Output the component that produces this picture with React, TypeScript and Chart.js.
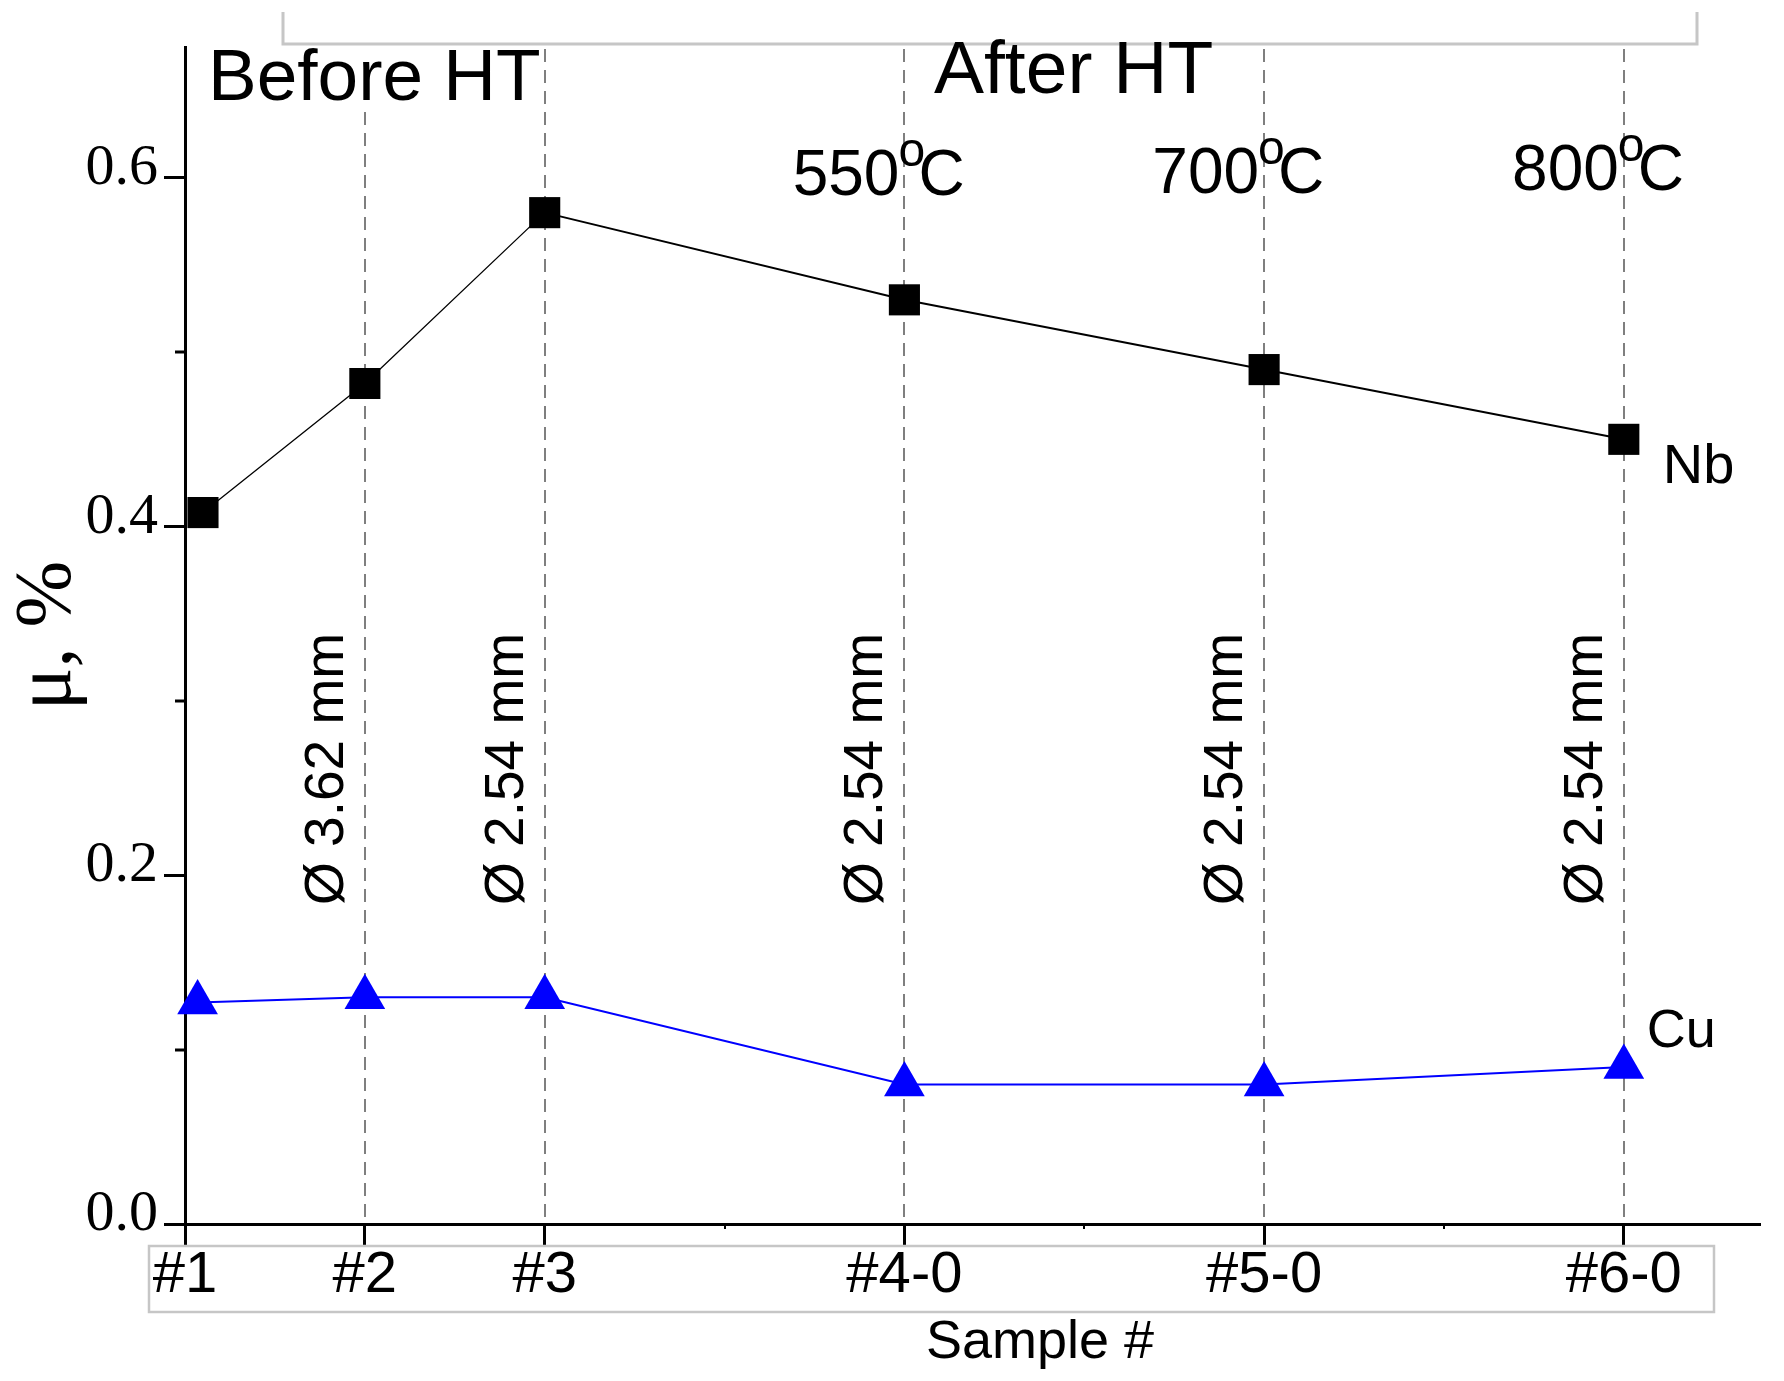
import React, { useEffect, useRef } from 'react';
import { Chart, registerables } from 'chart.js';

Chart.register(...registerables);

// ---- data ----
const sampleLabels = ['#1', '#2', '#3', '#4-0', '#5-0', '#6-0'];
const samplePositions = [1, 2, 3, 5, 7, 9];
const xTickValues = [1, 2, 3, 4, 5, 6, 7, 8, 9];
const xMinorTicks = [4, 6, 8];

const nbX = [1.1, 2, 3, 5, 7, 9];
const nbValues = [0.408, 0.482, 0.58, 0.53, 0.49, 0.45];
const cuX = [1.07, 2, 3, 5, 7, 9];
const cuValues = [0.127, 0.13, 0.13, 0.08, 0.08, 0.09];

const yTickValues = [0, 0.1, 0.2, 0.3, 0.4, 0.5, 0.6];
const yLabelledTicks = [0, 0.2, 0.4, 0.6];
const yMinorTicks = [0.1, 0.3, 0.5];

const guidePositions = [2, 3, 5, 7, 9];
const diameterLabels = ['Ø 3.62 mm', 'Ø 2.54 mm', 'Ø 2.54 mm', 'Ø 2.54 mm', 'Ø 2.54 mm'];
const diameterPositions = [2, 3, 5, 7, 9];
const temperatureLabels = ['550', '700', '800'];
const temperaturePositions = [5, 7, 9];

const X_MIN = 1;
const X_MAX = 9.76;
const Y_MIN = 0;
const Y_MAX = 0.675;

const SANS = '"Liberation Sans", Arial, sans-serif';
const SERIF = '"Liberation Serif", "Times New Roman", serif';
const TEMP_BASELINES = [195, 193, 190];

const annotations = {
  id: 'annotations',
  beforeDatasetsDraw(chart: any) {
    const { ctx, chartArea, scales } = chart;
    const x = scales.x;
    ctx.save();
    // dashed vertical guides
    ctx.strokeStyle = '#7f7f7f';
    ctx.lineWidth = 2;
    ctx.setLineDash([13, 8]);
    guidePositions.forEach((v) => {
      const px = Math.round(x.getPixelForValue(v));
      ctx.beginPath();
      ctx.moveTo(px, chartArea.top + 2);
      ctx.lineTo(px, chartArea.bottom);
      ctx.stroke();
    });
    ctx.setLineDash([]);
    // white backing behind "Before HT"
    ctx.fillStyle = '#ffffff';
    ctx.fillRect(chartArea.left + 16, chartArea.top + 1, 338, 60);
    ctx.restore();
  },
  afterDraw(chart: any) {
    const { ctx, chartArea, scales } = chart;
    const x = scales.x;
    const y = scales.y;
    ctx.save();

    // minor ticks
    ctx.strokeStyle = '#000';
    ctx.lineWidth = 3;
    yMinorTicks.forEach((v) => {
      const py = Math.round(y.getPixelForValue(v));
      ctx.beginPath();
      ctx.moveTo(chartArea.left - 10, py);
      ctx.lineTo(chartArea.left, py);
      ctx.stroke();
    });
    ctx.lineWidth = 2;
    xMinorTicks.forEach((v) => {
      const px = Math.round(x.getPixelForValue(v));
      ctx.beginPath();
      ctx.moveTo(px, chartArea.bottom);
      ctx.lineTo(px, chartArea.bottom + 5);
      ctx.stroke();
    });

    // top bracket
    ctx.strokeStyle = '#c6c6c6';
    ctx.lineWidth = 3;
    ctx.beginPath();
    ctx.moveTo(283, 12);
    ctx.lineTo(283, 44);
    ctx.lineTo(1697, 44);
    ctx.lineTo(1697, 12);
    ctx.stroke();

    // box around sample labels
    ctx.lineWidth = 2.5;
    ctx.strokeRect(149, 1246, 1714 - 149, 1312 - 1246);

    ctx.fillStyle = '#000';
    ctx.textBaseline = 'alphabetic';
    ctx.textAlign = 'left';

    // header texts
    ctx.font = `73px ${SANS}`;
    ctx.fillText('Before HT', 208, 100);
    ctx.font = `75px ${SANS}`;
    ctx.fillText('After HT', 934, 93);

    // temperatures
    temperaturePositions.forEach((v, i) => {
      const lx = x.getPixelForValue(v);
      const numEnd = lx - 5;
      const base = TEMP_BASELINES[i];
      ctx.font = `64px ${SANS}`;
      ctx.textAlign = 'right';
      ctx.fillText(temperatureLabels[i], numEnd, base);
      ctx.textAlign = 'left';
      ctx.font = `48px ${SANS}`;
      ctx.fillText('o', numEnd - 1, base - 29);
      ctx.font = `64px ${SANS}`;
      ctx.fillText('C', numEnd + 19, base);
    });

    // rotated diameter labels
    ctx.font = `55px ${SANS}`;
    ctx.textAlign = 'left';
    diameterPositions.forEach((v, i) => {
      const px = x.getPixelForValue(v) - 22;
      ctx.save();
      ctx.translate(px, 905);
      ctx.rotate(-Math.PI / 2);
      ctx.fillText(diameterLabels[i], 0, 0);
      ctx.restore();
    });

    // series labels
    const nbLast = nbValues.length - 1;
    const cuLast = cuValues.length - 1;
    ctx.font = `56px ${SANS}`;
    ctx.fillText('Nb', x.getPixelForValue(nbX[nbLast]) + 39, y.getPixelForValue(nbValues[nbLast]) + 44);
    ctx.font = `54px ${SANS}`;
    ctx.fillText('Cu', x.getPixelForValue(cuX[cuLast]) + 23, y.getPixelForValue(cuValues[cuLast]) - 20);

    // x axis title
    ctx.font = `54px ${SANS}`;
    ctx.textAlign = 'center';
    ctx.fillText('Sample #', 1040, 1358);

    ctx.restore();
  },
};

export default function App() {
  const ref = useRef<HTMLCanvasElement>(null);

  useEffect(() => {
    const canvas = ref.current;
    if (!canvas) return;
    const chart = new Chart(canvas, {
      type: 'scatter',
      data: {
        datasets: [
          {
            label: 'Nb',
            data: nbX.map((xv, i) => ({ x: xv, y: nbValues[i] })),
            showLine: true,
            borderColor: '#000000',
            borderWidth: 2,
            segment: {
              borderWidth: (c: any) => (c.p1DataIndex <= 2 ? 1.3 : 2),
            },
            pointStyle: 'rect',
            pointRadius: 22,
            pointBackgroundColor: '#000000',
            pointBorderWidth: 0,
            clip: false,
          } as any,
          {
            label: 'Cu',
            data: cuX.map((xv, i) => ({ x: xv, y: cuValues[i] })),
            showLine: true,
            borderColor: '#0000ff',
            borderWidth: 2,
            pointStyle: 'triangle',
            pointRadius: 23.5,
            pointBackgroundColor: '#0000ff',
            pointBorderWidth: 0,
            clip: false,
          } as any,
        ],
      },
      options: {
        responsive: false,
        maintainAspectRatio: false,
        animation: false,
        devicePixelRatio: 1,
        events: [],
        layout: { padding: { top: 47, right: 22, left: 0, bottom: 0 } },
        plugins: {
          legend: { display: false },
          tooltip: { enabled: false },
        },
        scales: {
          x: {
            type: 'linear',
            position: 'bottom',
            min: X_MIN,
            max: X_MAX,
            afterBuildTicks: (s: any) => {
              s.ticks = xTickValues.map((v) => ({ value: v }));
            },
            afterFit: (s: any) => {
              s.height = 157;
            },
            grid: {
              display: true,
              drawOnChartArea: false,
              drawTicks: true,
              tickLength: 21,
              tickWidth: 3,
              tickColor: (c: any) =>
                c.tick && samplePositions.includes(c.tick.value) ? '#000' : 'rgba(0,0,0,0)',
            },
            border: { display: true, color: '#000', width: 3 },
            ticks: {
              autoSkip: false,
              maxRotation: 0,
              minRotation: 0,
              padding: -4,
              color: '#000',
              font: { family: SANS, size: 58 },
              callback: (v: any) => {
                const i = samplePositions.indexOf(Number(v));
                return i >= 0 ? sampleLabels[i] : '';
              },
            },
          },
          y: {
            type: 'linear',
            position: 'left',
            min: Y_MIN,
            max: Y_MAX,
            afterBuildTicks: (s: any) => {
              s.ticks = yTickValues.map((v) => ({ value: v }));
            },
            afterFit: (s: any) => {
              s.width = 185;
            },
            grid: {
              display: true,
              drawOnChartArea: false,
              drawTicks: true,
              tickLength: 21,
              tickWidth: 3,
              tickColor: (c: any) =>
                c.tick && yLabelledTicks.includes(c.tick.value) ? '#000' : 'rgba(0,0,0,0)',
            },
            border: { display: true, color: '#000', width: 3 },
            title: {
              display: true,
              text: 'μ, %',
              color: '#000',
              font: { family: SERIF, size: 80 },
              padding: { top: 1, bottom: 0 },
            },
            ticks: {
              autoSkip: false,
              padding: 6,
              labelOffset: -9,
              color: '#000',
              font: { family: SERIF, size: 58 },
              callback: (v: any) =>
                yLabelledTicks.includes(Number(v)) ? Number(v).toFixed(1) : '',
            },
          },
        },
      } as any,
      plugins: [annotations],
    });
    return () => {
      chart.destroy();
    };
  }, []);

  return (
    <div
      style={{
        position: 'absolute',
        left: 0,
        top: 0,
        width: 1784,
        height: 1381,
        background: '#ffffff',
        overflow: 'hidden',
      }}
    >
      <canvas
        ref={ref}
        width={1784}
        height={1381}
        style={{ display: 'block', width: 1784, height: 1381 }}
      />
    </div>
  );
}
